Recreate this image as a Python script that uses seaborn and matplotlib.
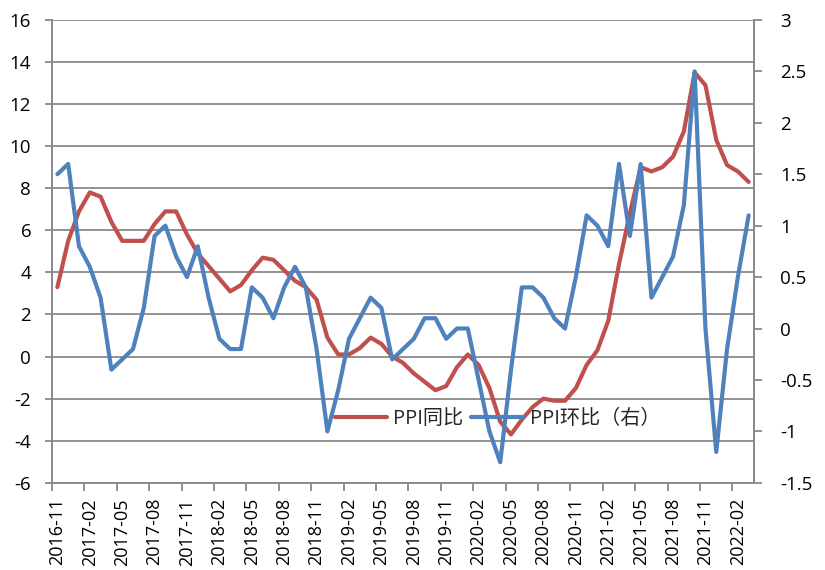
import numpy as np
import pandas as pd
import matplotlib
matplotlib.use("Agg")
import matplotlib.pyplot as plt
import seaborn as sns

# monthly categories, 2016-11 .. 2022-03
months = pd.period_range("2016-11", "2022-03", freq="M").strftime("%Y-%m").tolist()

# PPI year-on-year (%), left axis
ppi_yoy = [3.3, 5.5,
           6.9, 7.8, 7.6, 6.4, 5.5, 5.5, 5.5, 6.3, 6.9, 6.9, 5.8, 4.9,
           4.3, 3.7, 3.1, 3.4, 4.1, 4.7, 4.6, 4.1, 3.6, 3.3, 2.7, 0.9,
           0.1, 0.1, 0.4, 0.9, 0.6, 0.0, -0.3, -0.8, -1.2, -1.6, -1.4, -0.5,
           0.1, -0.4, -1.5, -3.1, -3.7, -3.0, -2.4, -2.0, -2.1, -2.1, -1.5, -0.4,
           0.3, 1.7, 4.4, 6.8, 9.0, 8.8, 9.0, 9.5, 10.7, 13.5, 12.9, 10.3,
           9.1, 8.8, 8.3]

# PPI month-on-month (%), right axis
ppi_mom = [1.5, 1.6,
           0.8, 0.6, 0.3, -0.4, -0.3, -0.2, 0.2, 0.9, 1.0, 0.7, 0.5, 0.8,
           0.3, -0.1, -0.2, -0.2, 0.4, 0.3, 0.1, 0.4, 0.6, 0.4, -0.2, -1.0,
           -0.6, -0.1, 0.1, 0.3, 0.2, -0.3, -0.2, -0.1, 0.1, 0.1, -0.1, 0.0,
           0.0, -0.5, -1.0, -1.3, -0.4, 0.4, 0.4, 0.3, 0.1, 0.0, 0.5, 1.1,
           1.0, 0.8, 1.6, 0.9, 1.6, 0.3, 0.5, 0.7, 1.2, 2.5, 0.0, -1.2,
           -0.2, 0.5, 1.1]

left_ticks = list(range(-6, 17, 2))
right_ticks = [-1.5, -1, -0.5, 0, 0.5, 1, 1.5, 2, 2.5, 3]
legend_labels = ["PPI同比", "PPI环比（右）"]

RED = "#C0504D"
BLUE = "#4F81BD"
GRAY = "#898989"

sns.set_theme(style="white")
plt.rcParams['font.family'] = ['Open Sans', 'Noto Sans CJK SC', 'DejaVu Sans']

df = pd.DataFrame({"idx": range(len(months)), "month": months,
                   "yoy": ppi_yoy, "mom": ppi_mom})

fig, ax = plt.subplots(figsize=(8.25, 5.7), dpi=100)
fig.subplots_adjust(left=0.063, right=0.914, top=0.965, bottom=0.153)
ax2 = ax.twinx()

sns.lineplot(data=df, x="idx", y="yoy", ax=ax, color=RED, lw=3, legend=False)
sns.lineplot(data=df, x="idx", y="mom", ax=ax2, color=BLUE, lw=3, legend=False)

ax.set_xlim(-0.5, len(months) - 0.5)
ax.set_ylim(-6, 16)
ax2.set_ylim(-1.5, 3)
ax.set_yticks(left_ticks)
ax.set_yticklabels([str(t) for t in left_ticks])
ax2.set_yticks(right_ticks)
ax2.set_yticklabels([f"{t:g}" for t in right_ticks])

tick_pos = list(range(0, len(months), 3))
ax.set_xticks(tick_pos)
ax.set_xticklabels([months[i] for i in tick_pos], rotation=90)
ax.set_xticks([i - 0.5 for i in tick_pos], minor=True)
for a in (ax, ax2):
    a.set_xlabel("")
    a.set_ylabel("")

ax.yaxis.grid(True, color=GRAY, lw=1.3)
ax.xaxis.grid(False)
ax.set_axisbelow(True)

for s in ["top", "right"]:
    ax.spines[s].set_visible(False)
for s in ["top", "left", "bottom"]:
    ax2.spines[s].set_visible(False)
for s in ["left", "bottom"]:
    ax.spines[s].set_color(GRAY)
    ax.spines[s].set_linewidth(1.4)
ax2.spines["right"].set_color(GRAY)
ax2.spines["right"].set_linewidth(1.4)

ax.tick_params(axis="y", left=True, direction="out", length=5, width=1.3,
               color=GRAY, pad=10, labelsize=13.5, labelcolor="black")
ax2.tick_params(axis="y", right=True, direction="out", length=6, width=1.3,
                color=GRAY, pad=13, labelsize=13.5, labelcolor="black")
ax.tick_params(axis="x", which="major", bottom=True, length=0, pad=11,
               labelsize=13, labelcolor="black")
ax.tick_params(axis="x", which="minor", bottom=True, direction="out",
               length=6, width=1.3, color=GRAY)

handles = [ax.lines[0], ax2.lines[0]]
ax2.legend(handles, legend_labels, loc="center left",
           bbox_to_anchor=(0.403, 0.138), ncol=2, frameon=False,
           fontsize=14.5, handlelength=2.6, handletextpad=0.3,
           columnspacing=0.4, borderpad=0, borderaxespad=0)

fig.savefig("out.png", dpi=100)
